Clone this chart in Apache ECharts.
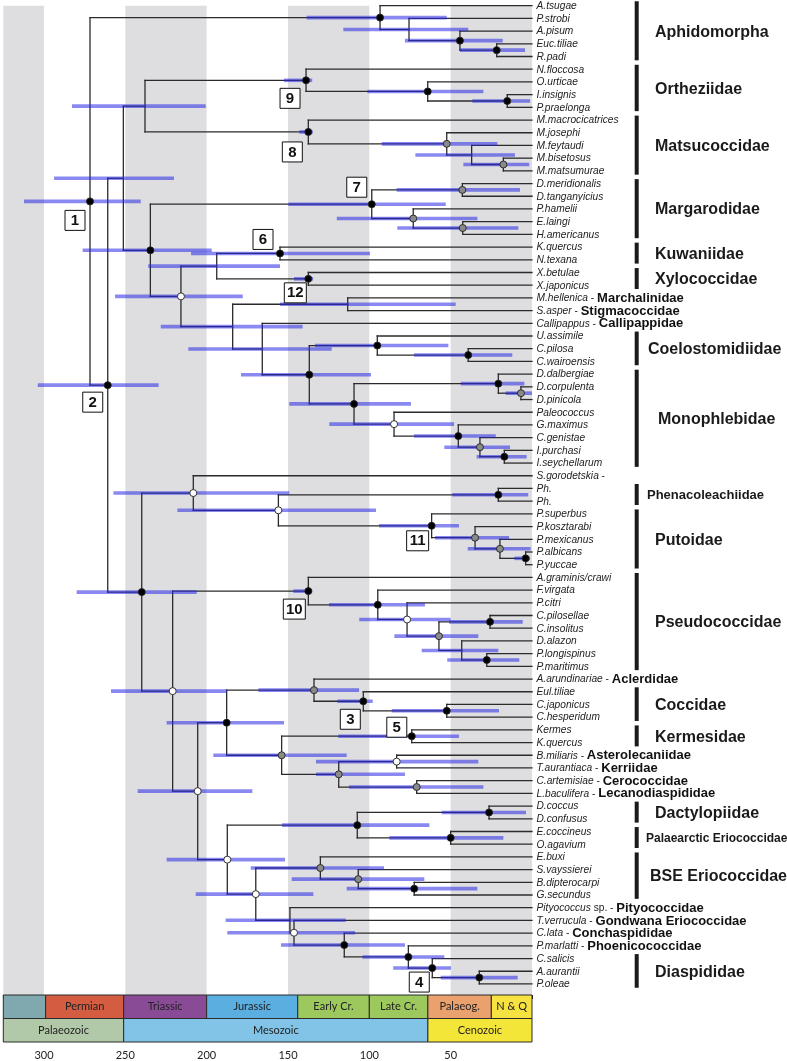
<!DOCTYPE html>
<html>
<head>
<meta charset="utf-8">
<script src="https://cdn.jsdelivr.net/npm/echarts@6/dist/echarts.min.js"></script>
<style>
html,body{margin:0;padding:0;background:#ffffff;}
#chart{width:787px;height:1061px;}
</style>
</head>
<body>
<div id="chart"></div>
<script>
// ================= DATA =================
const tipNames = [
 'A.tsugae','P.strobi','A.pisum','Euc.tiliae','R.padi',
 'N.floccosa','O.urticae','I.insignis','P.praelonga',
 'M.macrocicatrices','M.josephi','M.feytaudi','M.bisetosus','M.matsumurae',
 'D.meridionalis','D.tanganyicius','P.hamelii','E.laingi','H.americanus',
 'K.quercus','N.texana','X.betulae','X.japonicus',
 'M.hellenica','S.asper','Callipappus',
 'U.assimile','C.pilosa','C.wairoensis',
 'D.dalbergiae','D.corpulenta','D.pinicola','Paleococcus','G.maximus','C.genistae','I.purchasi','I.seychellarum',
 'S.gorodetskia','Ph.','Ph.',
 'P.superbus','P.kosztarabi','P.mexicanus','P.albicans','P.yuccae',
 'A.graminis/crawi','F.virgata','P.citri','C.pilosellae','C.insolitus','D.alazon','P.longispinus','P.maritimus',
 'A.arundinariae','Eul.tiliae','C.japonicus','C.hesperidum',
 'Kermes','K.quercus','B.miliaris','T.aurantiaca','C.artemisiae','L.baculifera',
 'D.coccus','D.confusus','E.coccineus','O.agavium',
 'E.buxi','S.vayssierei','B.dipterocarpi','G.secundus',
 'Pityococcus','T.verrucula','C.lata','P.marlatti',
 'C.salicis','A.aurantii','P.oleae'
];
// tip index -> family written after the species name
const inlineFamilies = [
 [23,'Marchalinidae'],[24,'Stigmacoccidae'],[25,'Callipappidae'],[37,''],
 [53,'Aclerdidae'],[59,'Asterolecaniidae'],[60,'Kerriidae'],[61,'Cerococcidae'],
 [62,'Lecanodiaspididae'],[71,'Pityococcidae'],[72,'Gondwana Eriococcidae'],
 [73,'Conchaspididae'],[74,'Phoenicococcidae']
];
const tipQualifiers = [[71,'sp.']];

// family brackets: [label, first tip, last tip]
const familyGroups = [
 ['Aphidomorpha',0,4],['Ortheziidae',5,8],['Matsucoccidae',9,13],['Margarodidae',14,18],
 ['Kuwaniidae',19,20],['Xylococcidae',21,22],['Coelostomidiidae',26,28],['Monophlebidae',29,36],
 ['Phenacoleachiidae',38,39],['Putoidae',40,44],['Pseudococcidae',45,52],['Coccidae',54,56],
 ['Kermesidae',57,58],['Dactylopiidae',63,64],['Palaearctic Eriococcidae',65,66],
 ['BSE Eriococcidae',67,70],['Diaspididae',75,77]
];

// internal nodes: [id, children (tip index or node id), age Ma, HPD low, HPD high, support b/g/w]
const aphidNodes = [
 ['ap4',[3,4],21.7,4.3,44.3,'b'],
 ['ap3',[2,'ap4'],44.3,18.0,78.1,'b'],
 ['ap2',[1,'ap3'],75.6,39.2,116.0,''],
 ['ap1',[0,'ap2'],93.4,52.4,138.5,'b']
];
const ortheziidNodes = [
 ['or2',[7,8],15.2,1.2,36.7,'b'],
 ['or1',[6,'or2'],64.1,29.9,101.2,'b'],
 ['n9',[5,'or1'],138.9,135.1,152.4,'b']
];
const matsucoccidNodes = [
 ['ms3',[12,13],17.6,1.7,42.2,'g'],
 ['ms2',[11,'ms3'],37.1,10.5,71.7,''],
 ['ms1',[10,'ms2'],52.4,21.3,92.4,'g'],
 ['n8',[9,'ms1'],137.5,134.8,143.0,'b']
];
const margarodidNodes = [
 ['mg1',[14,15],42.8,7.4,83.2,'g'],
 ['mg3',[17,18],42.6,8.4,82.8,'g'],
 ['mg2',[16,'mg3'],73.0,33.6,120.0,'g'],
 ['n7',['mg1','mg2'],98.5,53.0,149.8,'b']
];
const archaeoNodes = [
 ['n6',[19,20],154.9,99.6,209.6,'b'],
 ['n12',[21,22],137.5,134.6,146.3,'b'],
 ['nE',['n6','n12'],193.8,154.9,235.9,''],
 ['mh',[23,24],113.3,46.9,154.9,''],
 ['co2',[27,28],39.2,12.1,72.5,'b'],
 ['co1',[26,'co2'],95.1,51.4,133.4,'b']
];
const monophlebidNodes = [
 ['mo3',[30,31],6.8,0.0,16.2,'g'],
 ['mo2',[29,'mo3'],20.7,4.7,43.8,'b'],
 ['mo7',[35,36],17.0,3.3,34.0,'b'],
 ['mo6',[34,'mo7'],32.0,13.5,53.9,'g'],
 ['mo5',[33,'mo6'],45.3,22.3,72.5,'b'],
 ['mo4',[32,'mo5'],84.8,47.9,124.6,'w'],
 ['mo1',['mo2','mo4'],109.4,74.4,149.2,'b']
];
const archaeoBackbone = [
 ['nH',['co1','mo1'],136.9,99.0,178.9,'b'],
 ['nG',[25,'nH'],165.8,123.1,211.3,''],
 ['nF',['mh','nG'],184.0,141.0,228.2,''],
 ['nD',['nE','nF'],215.8,177.8,256.3,'w'],
 ['nC',['n7','nD'],234.6,196.9,276.2,'b'],
 ['nB',['n9','n8'],237.9,200.6,282.8,''],
 ['nA',['nB','nC'],251.2,220.1,293.8,'']
];
const putoidNodes = [
 ['ph',[38,39],20.7,2.3,49.0,'b'],
 ['pu3',[43,44],3.9,1.2,10.9,'b'],
 ['pu2',[42,'pu3'],19.7,0.8,39.5,'g'],
 ['pu1',[41,'pu2'],35.0,14.1,59.6,'g'],
 ['n11',[40,'pu1'],61.7,44.9,94.0,'b'],
 ['nN',['ph','n11'],155.9,95.9,218.0,'w'],
 ['nK',[37,'nN'],208.2,149.2,257.3,'w']
];
const pseudococcidNodes = [
 ['ps5',[51,52],27.8,7.8,52.1,'b'],
 ['ps4',[50,'ps5'],43.2,20.7,67.8,''],
 ['ps3',[48,49],25.8,5.7,51.0,'b'],
 ['ps2',['ps3','ps4'],57.2,33.0,84.6,'g'],
 ['ps1',[47,'ps2'],76.8,50.0,106.2,'w'],
 ['ps0',[46,'ps1'],94.8,65.8,124.8,'b'],
 ['n10',[45,'ps0'],137.5,135.1,146.7,'b']
];
const coccoidNodes = [
 ['cc2',[55,56],52.4,20.3,86.2,'b'],
 ['n3',[54,'cc2'],103.7,97.9,119.7,'b'],
 ['nQ',[53,'n3'],134.0,106.3,168.2,'g'],
 ['n5',[57,58],73.9,44.9,119.1,'b'],
 ['as2',[59,60],83.2,33.0,132.8,'w'],
 ['as3',[61,62],70.9,29.9,112.5,'g'],
 ['nT',['as2','as3'],118.8,78.1,132.8,'g'],
 ['nR',['n5','nT'],153.9,113.9,195.9,'g'],
 ['nP',['nQ','nR'],187.7,152.4,224.6,'b']
];
const eriococcidNodes = [
 ['da',[63,64],26.4,3.7,55.5,'b'],
 ['er',[65,66],50.0,17.6,87.7,'b'],
 ['nU',['da','er'],107.4,63.1,153.7,'b'],
 ['bs3',[69,70],72.4,33.6,113.9,'b'],
 ['bs2',[68,'bs3'],106.8,66.2,147.7,'g'],
 ['bs1',[67,'bs2'],130.1,91.0,172.9,'g']
];
const diaspidNodes = [
 ['di2',[76,77],32.4,8.8,56.1,'b'],
 ['n4',[75,'di2'],61.3,49.8,85.3,'b'],
 ['nZ',[74,'n4'],76.0,53.9,104.3,'b'],
 ['nY',[73,'nZ'],115.4,78.1,154.3,'b'],
 ['nX',[72,'nY'],146.3,108.8,187.3,'w'],
 ['nW',[71,'nX'],148.8,114.5,188.3,'']
];
const neococcidBackbone = [
 ['nV',['bs1','nW'],169.8,134.4,206.7,'w'],
 ['nS',['nU','nV'],187.3,151.8,224.6,'w'],
 ['nM',['nP','nS'],205.5,171.9,242.4,'w'],
 ['nL',['n10','nM'],220.9,187.7,258.8,'w'],
 ['nJ',['nK','nL'],239.9,206.1,279.9,'b'],
 ['n2',['nA','nJ'],260.8,229.5,303.8,'b'],
 ['n1',['ap1','n2'],271.7,240.5,312.3,'b']
];
const nodeLabels = [['n1','1'],['n2','2'],['n3','3'],['n4','4'],['n5','5'],['n6','6'],
 ['n7','7'],['n8','8'],['n9','9'],['n10','10'],['n11','11'],['n12','12']];

// geological time scale
const periodNames = ['','Permian','Triassic','Jurassic','Early Cr.','Late Cr.','Palaeog.','N & Q'];
const periodBounds = [325,299,251,200,144,100,64,25,0];
const eraNames = ['Palaeozoic','Mesozoic','Cenozoic'];
const eraBounds = [325,251,64,0];
const shadedBands = [[325,300],[250,200],[150,100],[50,0]];

// ================= STYLE =================
const periodColors = ['#7fa9ae','#d35c41','#8a4b96','#5baee0','#9dc85d','#9dc85d','#eaa16d','#f6e240'];
const eraColors = ['#b2c9a9','#81c4e8','#f4e638'];
const boxOffsets = {n1:[-15,19],n2:[-15,17],n3:[-13,18],n4:[-13,14],n5:[-15,-9],n6:[-17,-14],
 n7:[-15,-17],n8:[-16,20],n9:[-16,18],n10:[-14,18],n11:[-14,15],n12:[-13,14]};
const familyLabelX = {'Coelostomidiidae':116,'Monophlebidae':126,'Phenacoleachiidae':115,
 'Palaearctic Eriococcidae':114,'BSE Eriococcidae':118};
const familyFont = {'Phenacoleachiidae':13,'Palaearctic Eriococcidae':12};
const SANS = '"Liberation Sans", Arial, Helvetica, sans-serif';
const YMAX = 77.87;

// ================= TREE LAYOUT =================
const allNodes = [].concat(aphidNodes, ortheziidNodes, matsucoccidNodes, margarodidNodes,
  archaeoNodes, monophlebidNodes, archaeoBackbone, putoidNodes, pseudococcidNodes,
  coccoidNodes, eriococcidNodes, diaspidNodes, neococcidBackbone);
const nodeIdx = {};
allNodes.forEach((n,i)=>{ nodeIdx[n[0]] = i; });
const nodeY = {};
function yOf(r){
  if (typeof r === 'number') return r;
  if (nodeY[r] === undefined){
    const ch = allNodes[nodeIdx[r]][1];
    nodeY[r] = (yOf(ch[0]) + yOf(ch[ch.length-1])) / 2;
  }
  return nodeY[r];
}
function ageOf(r){ return typeof r === 'number' ? 0 : allNodes[nodeIdx[r]][2]; }

const branchData = [], hpdData = [], markerData = [];
allNodes.forEach(n=>{
  const [id, ch, age, lo, hi, sup] = n;
  const y = yOf(id);
  branchData.push([age, yOf(ch[0]), age, yOf(ch[ch.length-1])]);
  ch.forEach(c=>branchData.push([age, yOf(c), ageOf(c), yOf(c)]));
  hpdData.push([hi, y, lo, y]);
  if (sup) markerData.push({value:[age, y], sup: sup});
});
const boxData = nodeLabels.map(b=>({value:[ageOf(b[0]), yOf(b[0])], label:b[1], id:b[0]}));
const tipData = tipNames.map((n,i)=>[0, i]);
const famMap = {}; inlineFamilies.forEach(f=>famMap[f[0]] = f[1]);
const qualMap = {}; tipQualifiers.forEach(q=>qualMap[q[0]] = q[1]);

function segRenderer(style){
  return function(params, api){
    const p1 = api.coord([api.value(0), api.value(1)]);
    const p2 = api.coord([api.value(2), api.value(3)]);
    return {type:'line', shape:{x1:p1[0], y1:p1[1], x2:p2[0], y2:p2[1]}, style:style, silent:true};
  };
}

const chart = echarts.init(document.getElementById('chart'), null, {renderer:'canvas'});
const option = {
  animation:false,
  backgroundColor:'#ffffff',
  grid:[
    {left:3.3, right:255, top:5.7, height:989.3},
    {left:3.3, right:255, top:995, height:47}
  ],
  xAxis:[
    {gridIndex:0, type:'value', min:0, max:325, inverse:true, show:false},
    {gridIndex:1, type:'value', min:0, max:325, inverse:true, interval:25,
     axisLine:{show:true, lineStyle:{color:'#222', width:1}},
     axisTick:{show:true, length:4, lineStyle:{color:'#222'}},
     splitLine:{show:false},
     axisLabel:{color:'#222', fontSize:11, fontFamily:'Lato, sans-serif', margin:8,
       formatter:v=> (v % 50 === 0 && v > 0 && v < 325) ? String(v) : ''}}
  ],
  yAxis:[
    {gridIndex:0, type:'value', min:0, max:YMAX, inverse:true, show:false},
    {gridIndex:1, type:'value', min:0, max:2, inverse:true, show:false}
  ],
  series:[
    { // shaded 50 Myr bands
      type:'custom', xAxisIndex:0, yAxisIndex:0, z:1, data:shadedBands,
      renderItem:(params, api)=>{
        const a = api.coord([api.value(0), 0]);
        const b = api.coord([api.value(1), YMAX]);
        return {type:'rect', shape:{x:a[0], y:a[1], width:b[0]-a[0], height:b[1]-a[1]},
          style:{fill:'#dedee1'}, silent:true};
      }
    },
    { // branches
      type:'custom', xAxisIndex:0, yAxisIndex:0, z:2, data:branchData,
      renderItem:segRenderer({stroke:'#2b2b2b', lineWidth:1.3, lineCap:'square'})
    },
    { // 95% HPD bars
      type:'custom', xAxisIndex:0, yAxisIndex:0, z:3, data:hpdData,
      renderItem:segRenderer({stroke:'rgba(40,40,230,0.55)', lineWidth:3.6, lineCap:'butt'})
    },
    { // node support markers
      type:'scatter', xAxisIndex:0, yAxisIndex:0, z:4, data:markerData,
      symbol:'circle', symbolSize:7, silent:true,
      itemStyle:{
        color:p=> p.data.sup === 'b' ? '#000000' : (p.data.sup === 'g' ? '#8a8a8a' : '#ffffff'),
        borderColor:'#222', borderWidth:0.9, opacity:1
      }
    },
    { // numbered node boxes
      type:'custom', xAxisIndex:0, yAxisIndex:0, z:5, data:boxData,
      renderItem:(params, api)=>{
        const d = boxData[params.dataIndex];
        const p = api.coord([api.value(0), api.value(1)]);
        const off = boxOffsets[d.id];
        const w = d.label.length > 1 ? 22 : 20, h = 20;
        const cx = p[0] + off[0], cy = p[1] + off[1];
        return {type:'group', children:[
          {type:'rect', shape:{x:cx-w/2, y:cy-h/2, width:w, height:h},
           style:{fill:'#ffffff', stroke:'#111', lineWidth:1}},
          {type:'text', x:cx, y:cy+0.5, style:{text:d.label, fill:'#111',
           font:'bold 15px ' + SANS, align:'center', verticalAlign:'middle'}}
        ]};
      }
    },
    { // tip labels
      type:'custom', xAxisIndex:0, yAxisIndex:0, z:5, data:tipData,
      renderItem:(params, api)=>{
        const i = params.dataIndex;
        const p = api.coord([0, api.value(1)]);
        let txt = '{i|' + tipNames[i] + '}';
        if (qualMap[i] !== undefined) txt += '{n| ' + qualMap[i] + '}';
        if (famMap[i] !== undefined){
          txt += '{n| - }';
          if (famMap[i]) txt += '{b|' + famMap[i] + '}';
        }
        return {type:'text', x:p[0] + 4.5, y:p[1] + 0.5, style:{
          text:txt, align:'left', verticalAlign:'middle',
          rich:{
            i:{fontStyle:'italic', fontSize:10.2, fontFamily:SANS, fill:'#222'},
            n:{fontSize:10.2, fontFamily:SANS, fill:'#222'},
            b:{fontWeight:'bold', fontSize:13, fontFamily:SANS, fill:'#111'}
          }}};
      }
    },
    { // family brackets and names
      type:'custom', xAxisIndex:0, yAxisIndex:0, z:5, data:familyGroups.map(f=>[f[1], f[2]]),
      renderItem:(params, api)=>{
        const f = familyGroups[params.dataIndex];
        const top = api.coord([0, api.value(0) - 0.35]);
        const bot = api.coord([0, api.value(1) + 0.3]);
        const mid = api.coord([0, (api.value(0) + api.value(1)) / 2]);
        const dx = familyLabelX[f[0]] !== undefined ? familyLabelX[f[0]] : 123;
        const fs = familyFont[f[0]] || 16;
        return {type:'group', children:[
          {type:'rect', shape:{x:top[0] + 102.7, y:top[1], width:4, height:bot[1]-top[1]},
           style:{fill:'#1a1a1a'}},
          {type:'text', x:mid[0] + dx, y:mid[1] + 1, style:{text:f[0], fill:'#1a1a1a',
           font:'bold ' + fs + 'px ' + SANS, align:'left', verticalAlign:'middle'}}
        ]};
      }
    },
    { // periods
      type:'custom', xAxisIndex:1, yAxisIndex:1, z:2,
      data:periodNames.map((n,i)=>[periodBounds[i], periodBounds[i+1], 0]),
      renderItem:(params, api)=>{
        const i = params.dataIndex;
        const a = api.coord([api.value(0), api.value(2)]);
        const b = api.coord([api.value(1), api.value(2) + 1]);
        return {type:'rect', shape:{x:a[0], y:a[1], width:b[0]-a[0], height:b[1]-a[1]},
          style:{fill:periodColors[i], stroke:'#2a2a2a', lineWidth:1},
          textContent:{style:{text:periodNames[i], fill:'#222', font:'11px Lato, sans-serif'}},
          textConfig:{position:'inside'}};
      }
    },
    { // eras
      type:'custom', xAxisIndex:1, yAxisIndex:1, z:2,
      data:eraNames.map((n,i)=>[eraBounds[i], eraBounds[i+1], 1]),
      renderItem:(params, api)=>{
        const i = params.dataIndex;
        const a = api.coord([api.value(0), api.value(2)]);
        const b = api.coord([api.value(1), api.value(2) + 1]);
        return {type:'rect', shape:{x:a[0], y:a[1], width:b[0]-a[0], height:b[1]-a[1]},
          style:{fill:eraColors[i], stroke:'#2a2a2a', lineWidth:1},
          textContent:{style:{text:eraNames[i], fill:'#222', font:'11px Lato, sans-serif'}},
          textConfig:{position:'inside'}};
      }
    }
  ]
};
chart.setOption(option);
</script>
</body>
</html>
